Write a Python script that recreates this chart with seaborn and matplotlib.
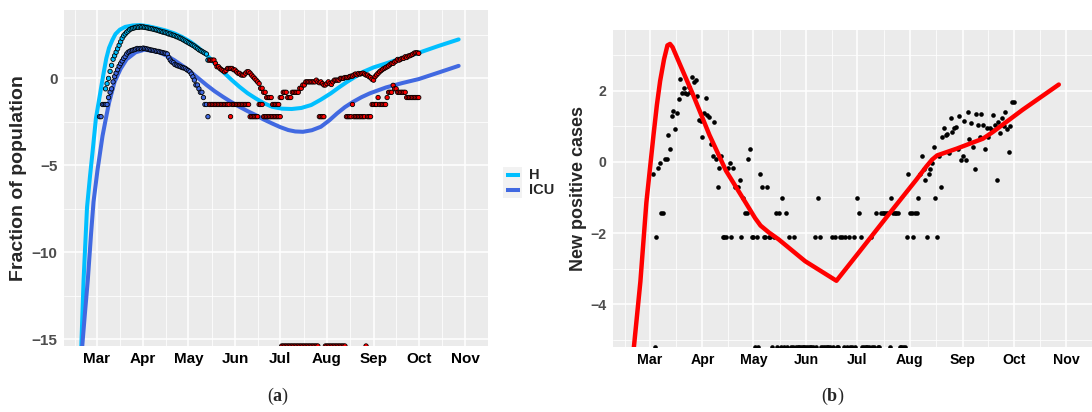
import matplotlib
matplotlib.use("Agg")
import matplotlib.pyplot as plt
from matplotlib.lines import Line2D
from matplotlib.patches import Rectangle
import numpy as np
import pandas as pd
import seaborn as sns

# ---------------- data (days counted from 1 March 2020) ----------------
month_labels = ["Mar", "Apr", "May", "Jun", "Jul", "Aug", "Sep", "Oct", "Nov"]
month_days = [0, 31, 61, 92, 122, 153, 184, 214, 245]

# panel (a): model curves
h_curve_days = [-11, -10.1, -8.6, -6.3, -4.3, -2.6, -0.4, 1.75, 3.5, 5, 6.5, 8.3, 10.5, 12.6, 15.5,
                19.1, 24, 28.8, 34, 40.7, 46, 51.6, 57, 62.4, 68, 73.2, 78.5, 84, 89.5, 94.9,
                100.3, 105.7, 111, 116.6, 123, 129.6, 136, 142.6, 149, 155.6, 161, 166.4, 172,
                177.2, 184, 192.3, 203, 214, 227, 240.5]
h_curve_vals = [-17.5, -15.4, -11.6, -7.4, -5.6, -4.2, -2.3, -1.2, -0.3, 0.45, 1.15, 1.75, 2.2, 2.55, 2.8,
                2.96, 3.04, 3.06, 3.0, 2.87, 2.75, 2.59, 2.37, 2.1, 1.74, 1.34, 0.86, 0.38, -0.07, -0.48,
                -0.85, -1.15, -1.42, -1.63, -1.74, -1.76, -1.7, -1.53, -1.22, -0.86, -0.52, -0.2, 0.1,
                0.38, 0.63, 0.86, 1.17, 1.47, 1.86, 2.24]
icu_curve_days = [-10.5, -9.5, -7.6, -5.8, -3.6, -2.0, 0.6, 4, 6, 8.3, 12, 16, 20, 26, 32, 40.7, 46,
                  51.6, 57, 62.4, 68, 73.2, 78.5, 84, 89.5, 94.9, 100.3, 105.7, 111, 116.6, 122,
                  127.4, 132, 137.1, 143, 149, 154.5, 159.8, 165, 170.6, 176, 181.5, 192.3, 203,
                  214, 227, 240.5]
icu_curve_vals = [-17.0, -15.4, -13.4, -11.6, -8.9, -7.1, -5.3, -3.3, -2.4, -1.4, -0.2, 0.55, 1.1, 1.5,
                  1.65, 1.53, 1.33, 1.05, 0.73, 0.38, -0.02, -0.39, -0.74, -1.06, -1.36, -1.63, -1.88,
                  -2.11, -2.36, -2.59, -2.8, -2.97, -3.05, -3.07, -2.98, -2.78, -2.42, -2.01, -1.65,
                  -1.34, -1.08, -0.86, -0.52, -0.27, -0.04, 0.33, 0.72]

# panel (a): observations (one value per day)
ZA = -15.38          # days with no ICU patient
h_obs_start = 6
h_obs = [
    -0.6, -0.3, 0.0, 0.4, 0.75, 1.1, 1.3, 1.5, 1.7, 1.9,
    2.1, 2.3, 2.45, 2.55, 2.65, 2.72, 2.8, 2.85, 2.88, 2.9,
    2.93, 2.95, 2.93, 2.97, 2.95, 2.96, 2.93, 2.92, 2.9, 2.88,
    2.86, 2.85, 2.82, 2.8, 2.78, 2.75, 2.72, 2.7, 2.66, 2.66,
    2.62, 2.6, 2.55, 2.55, 2.5, 2.48, 2.45, 2.4, 2.38, 2.33,
    2.3, 2.25, 2.2, 2.15, 2.1, 2.05, 2.0, 1.95, 1.9, 1.85,
    1.78, 1.72, 1.65, 1.6, 1.55, 1.5, 1.45, 1.4,
    1.05, 1.05, 1.05, 1.05, 1.05, 0.86, 0.67, 0.67, 0.57, 0.5,
    0.45, 0.38, 0.45, 0.57, 0.57, 0.57, 0.57, 0.5, 0.48, 0.38,
    0.3, 0.29, 0.2, 0.19, 0.19, 0.3, 0.38, 0.38, 0.3, 0.19,
    0.09, 0.0, -0.1, -0.2, -0.3, -0.57, -0.57, -0.8, -0.8, -1.1,
    -1.1, -1.1, -1.1, -1.5, -1.5, -1.5, -1.5, -1.5, -1.1, -1.1,
    -0.8, -0.8, -0.8, -1.1, -1.1, -1.1, -0.8, -0.8, -0.8, -0.8,
    -0.8, -0.57, -0.57, -0.38, -0.38, -0.2, -0.2, -0.2, -0.2, -0.2,
    -0.2, -0.2, -0.1, -0.2, -0.25, -0.2, -0.3, -0.38, -0.38, -0.3,
    -0.2, -0.3, -0.35, -0.2, -0.1, -0.1, -0.1, -0.1, 0.0, 0.0,
    0.0, 0.05, 0.05, 0.05, 0.1, 0.13, 0.13, 0.2, 0.25, 0.2,
    0.28, 0.25, 0.28, 0.3, 0.25, 0.19, 0.19, 0.1, 0.05, -0.05,
    -0.1, 0.1, 0.2, 0.29, 0.38, 0.45, 0.52, 0.57, 0.62, 0.67,
    0.72, 0.8, 0.86, 0.86, 0.95, 1.0, 1.09, 1.05, 1.1, 1.15,
    1.15, 1.24, 1.2, 1.28, 1.3, 1.34, 1.38, 1.45, 1.47, 1.47,
    1.44]
icu_obs_start = 2
icu_obs = ([
    -2.2, -2.2, -1.5, -1.5, -1.5, -1.5, -1.1, -0.8, -0.6, -0.2,
    0.1, 0.3, 0.5, 0.7, 0.85, 1.0, 1.15, 1.25, 1.4, 1.5,
    1.55, 1.6, 1.62, 1.65, 1.68, 1.72, 1.7, 1.72, 1.7, 1.74,
    1.72, 1.7, 1.68, 1.66, 1.63, 1.62, 1.6, 1.58, 1.55, 1.55,
    1.52, 1.5, 1.48, 1.45, 1.44, 1.4, 1.2, 1.05, 0.95, 0.9,
    0.8, 0.76, 0.72, 0.7, 0.66, 0.62, 0.6, 0.57, 0.5, 0.45,
    0.38, 0.25, 0.09, -0.1, -0.38, -0.38, -0.6, -0.8, -0.8, -1.1,
    -1.5, -1.5, -2.2]
    + [-1.5] * 14 + [-2.2] + [-1.5] * 12 + [-2.2] * 6 + [-1.5] * 3 + [-2.2] * 12
    + [ZA] * 25 + [-2.2] * 4 + [ZA] * 14 + [-2.2] * 4 + [-1.5] + [-2.2] * 8 + [ZA]
    + [-2.2] * 3 + [-1.5] * 4 + [-1.1] + [-1.5] * 5 + [-1.1] + [-0.8] * 3
    + [-0.4, -0.6, -0.6, -0.8, -0.8] + [-0.8] * 4 + [-1.1] * 9)
last_coloured_day = 74

# panel (b): new positive cases and fitted curve
ZB = -5.2            # days with no new case
pos_start = 2
pos_obs = [
    -0.33, ZB, -2.12, -0.17, -0.04, -1.43, -1.43, 0.08, 0.08, 0.75,
    0.35, 1.29, 1.44, 0.91, 1.36, 1.76, 2.32, 1.94, 2.06, 1.94,
    1.9, 2.11, 1.97, 2.39, 2.25, 2.3, 1.85, 1.17, 1.15, 0.69,
    1.36, 1.79, 1.31, 1.27, 0.5, 0.16, 1.13, 0.07, -0.72, -0.17,
    0.16, -2.12, -2.12, -2.12, -0.17, -0.04, -2.12, -0.17, -0.72, -0.72,
    -0.72, -0.51, -2.12, -1.03, -1.43, -1.43, 0.08, 0.35, -2.12, -2.12,
    ZB, -2.12, ZB, -0.33, -0.72, -2.12, -2.12, -0.72, -2.12, -2.12,
    ZB, -2.12, -1.43, ZB, -1.43, ZB, -1.03, ZB, -1.43, ZB,
    -2.12, ZB, ZB, -2.12, ZB, ZB, ZB, ZB, ZB, ZB,
    ZB, ZB, ZB, ZB, ZB, -2.12, ZB, -1.03, -2.12, ZB,
    ZB, ZB, ZB, ZB, ZB, -2.12, ZB, -2.12, ZB, ZB,
    -2.12, -2.12, ZB, -2.12, ZB, -2.12, ZB, ZB, -2.12, ZB,
    -1.03, -1.43, -2.12, ZB, ZB, ZB, ZB, ZB, -2.12, ZB,
    ZB, -1.43, ZB, ZB, -1.43, -1.43, -1.43, -1.43, -1.43, ZB,
    -1.03, -1.43, -1.43, -1.43, -1.43, ZB, ZB, ZB, ZB, -2.12,
    -0.33, -1.43, -1.43, -2.12, -1.43, -1.43, -1.03, -0.33, 0.16, -0.2,
    -0.51, -2.12, -0.33, -0.2, -0.04, 0.43, -1.03, -2.12, 0.16, -0.72,
    0.7, 0.94, 0.75, 0.79, 0.26, 1.22, 0.84, 0.94, 0.99, 0.35,
    1.29, 0.05, 0.16, 1.15, 0.05, 1.41, 0.64, 1.08, 0.43, -0.2,
    1.34, 1.03, 0.7, 1.34, 1.03, 0.35, 0.94, 0.7, 0.94, 0.89,
    1.31, 1.03, -0.51, 1.11, 0.81, 1.22, 1.0, 1.41, 0.91, 0.27,
    1.0, 1.69, 1.69]
fit_days = [-10.5, -9.3, -5.4, -1.9, 2.3, 4.3, 6.2, 8.5, 10.5, 12.0, 13.5, 17.8, 25.5, 35.2, 44.9,
            56.5, 62, 65.2, 70, 75.9, 91.4, 109.8, 122.4, 141.8, 156.8, 162.5, 166,
            169, 180.5, 195.9, 201.8, 219.2, 240.5]
fit_vals = [-5.75, -5.24, -3.36, -1.15, 0.75, 1.6, 2.27, 2.88, 3.27, 3.31, 3.22, 2.74, 1.89, 0.75,
            -0.25, -1.15, -1.58, -1.79, -1.98, -2.18, -2.79, -3.34, -2.58, -1.4, -0.5,
            -0.14, 0.06, 0.18, 0.37, 0.65, 0.84, 1.46, 2.17]

# ---------------- styling ----------------
sns.set_theme(style="darkgrid")
plt.rcParams["font.family"] = ["Liberation Sans", "DejaVu Sans"]
plt.rcParams["mathtext.fontset"] = "custom"
plt.rcParams["mathtext.rm"] = "Liberation Serif"
plt.rcParams["mathtext.bf"] = "Liberation Serif:bold"

W, H = 1092, 412
fig = plt.figure(figsize=(W / 100, H / 100), dpi=100)
fig.patch.set_facecolor("white")


def px_axes(x0, y0, x1, y1):
    return fig.add_axes([x0 / W, 1 - y1 / H, (x1 - x0) / W, (y1 - y0) / H])


ax1 = px_axes(64, 10, 488, 346)
ax2 = px_axes(613, 29.7, 1092, 347)

H_COL, ICU_COL = "#00BFFF", "#4169E1"

# ---- panel (a)
curves = pd.concat([
    pd.DataFrame({"day": h_curve_days, "value": h_curve_vals, "series": "H"}),
    pd.DataFrame({"day": icu_curve_days, "value": icu_curve_vals, "series": "ICU"}),
])
sns.lineplot(data=curves, x="day", y="value", hue="series", palette={"H": H_COL, "ICU": ICU_COL},
             sort=False, estimator=None, linewidth=2.9, legend=False, ax=ax1)

h_days = np.arange(h_obs_start, h_obs_start + len(h_obs))
icu_days = np.arange(icu_obs_start, icu_obs_start + len(icu_obs))
obs = pd.concat([
    pd.DataFrame({"day": h_days, "value": h_obs,
                  "fill": np.where(h_days <= last_coloured_day, "H", "late")}),
    pd.DataFrame({"day": icu_days, "value": icu_obs,
                  "fill": np.where(icu_days <= last_coloured_day, "ICU", "late")}),
])
sns.scatterplot(data=obs, x="day", y="value", hue="fill",
                palette={"H": H_COL, "ICU": ICU_COL, "late": "#FF0000"},
                s=10, edgecolor="black", linewidth=0.6, legend=False, ax=ax1, zorder=3)

ax1.set_xlim(-21.6, 253.7)
ax1.set_ylim(-15.38, 3.93)
ax1.set_yticks([-15, -10, -5, 0])
ax1.set_yticks([-12.5, -7.5, -2.5, 2.5], minor=True)

# ---- panel (b)
sns.scatterplot(x=np.arange(pos_start, pos_start + len(pos_obs)), y=pos_obs, color="black",
                s=11, linewidth=0, ax=ax2, zorder=3)
sns.lineplot(x=fit_days, y=fit_vals, color="#FF0000", linewidth=3.2, sort=False, estimator=None,
             ax=ax2, zorder=4)
ax2.set_xlim(-21.5, 252.8)
ax2.set_ylim(-5.2, 3.71)
ax2.set_yticks([-4, -2, 0, 2])
ax2.set_yticks([-5, -3, -1, 1, 3], minor=True)

breaks = [-29] + month_days + [275]
minor_x = [(a + b) / 2 for a, b in zip(breaks[:-1], breaks[1:])]
for ax, tsize in ((ax1, 11), (ax2, 10.2)):
    ax.set_facecolor("#EBEBEB")
    ax.set_xticks(month_days)
    ax.set_xticklabels(month_labels)
    ax.set_xticks(minor_x, minor=True)
    ax.grid(which="major", color="white", linewidth=1.1)
    ax.grid(which="minor", color="white", linewidth=0.55)
    ax.set_axisbelow(True)
    for sp in ax.spines.values():
        sp.set_visible(False)
    ax.tick_params(which="major", length=2.5, width=0.8, color="#333333")
    ax.tick_params(which="minor", length=0)
    ax.tick_params(axis="x", pad=1.5, labelsize=tsize, labelcolor="black")
    ax.tick_params(axis="y", pad=2, labelsize=tsize, labelcolor="#4D4D4D")
    for lab in ax.get_xticklabels() + ax.get_yticklabels():
        lab.set_fontweight("bold")
    ax.set_xlabel("")

ax1.set_ylabel("Fraction of population", fontsize=14, fontweight="bold", va="center")
ax1.yaxis.set_label_coords((19 - 64) / 424, 0.5)
ax2.set_ylabel("New positive cases", fontsize=13, fontweight="bold", va="center")
ax2.yaxis.set_label_coords((578.5 - 613) / 479, 0.5)

# ---- legend of panel (a)
fig.add_artist(Rectangle((503 / W, 1 - 198 / H), 19 / W, 31 / H, transform=fig.transFigure,
                         facecolor="#F2F2F2", edgecolor="none"))
for lab, col, yy in (("H", H_COL, 175), ("ICU", ICU_COL, 190.5)):
    fig.add_artist(Line2D([505.5 / W, 519.5 / W], [1 - yy / H] * 2, transform=fig.transFigure,
                          color=col, linewidth=2.9, solid_capstyle="butt"))
    fig.text(529 / W, 1 - yy / H, lab, fontsize=10.5, fontweight="bold", va="center", ha="left")

# ---- sub-captions
fig.text(278 / W, 1 - 396 / H, r"($\mathbf{a}$)", fontsize=13, family="Liberation Serif",
         ha="center", va="center")
fig.text(833 / W, 1 - 396 / H, r"($\mathbf{b}$)", fontsize=13, family="Liberation Serif",
         ha="center", va="center")

fig.savefig("out.png", dpi=100, facecolor="white")
